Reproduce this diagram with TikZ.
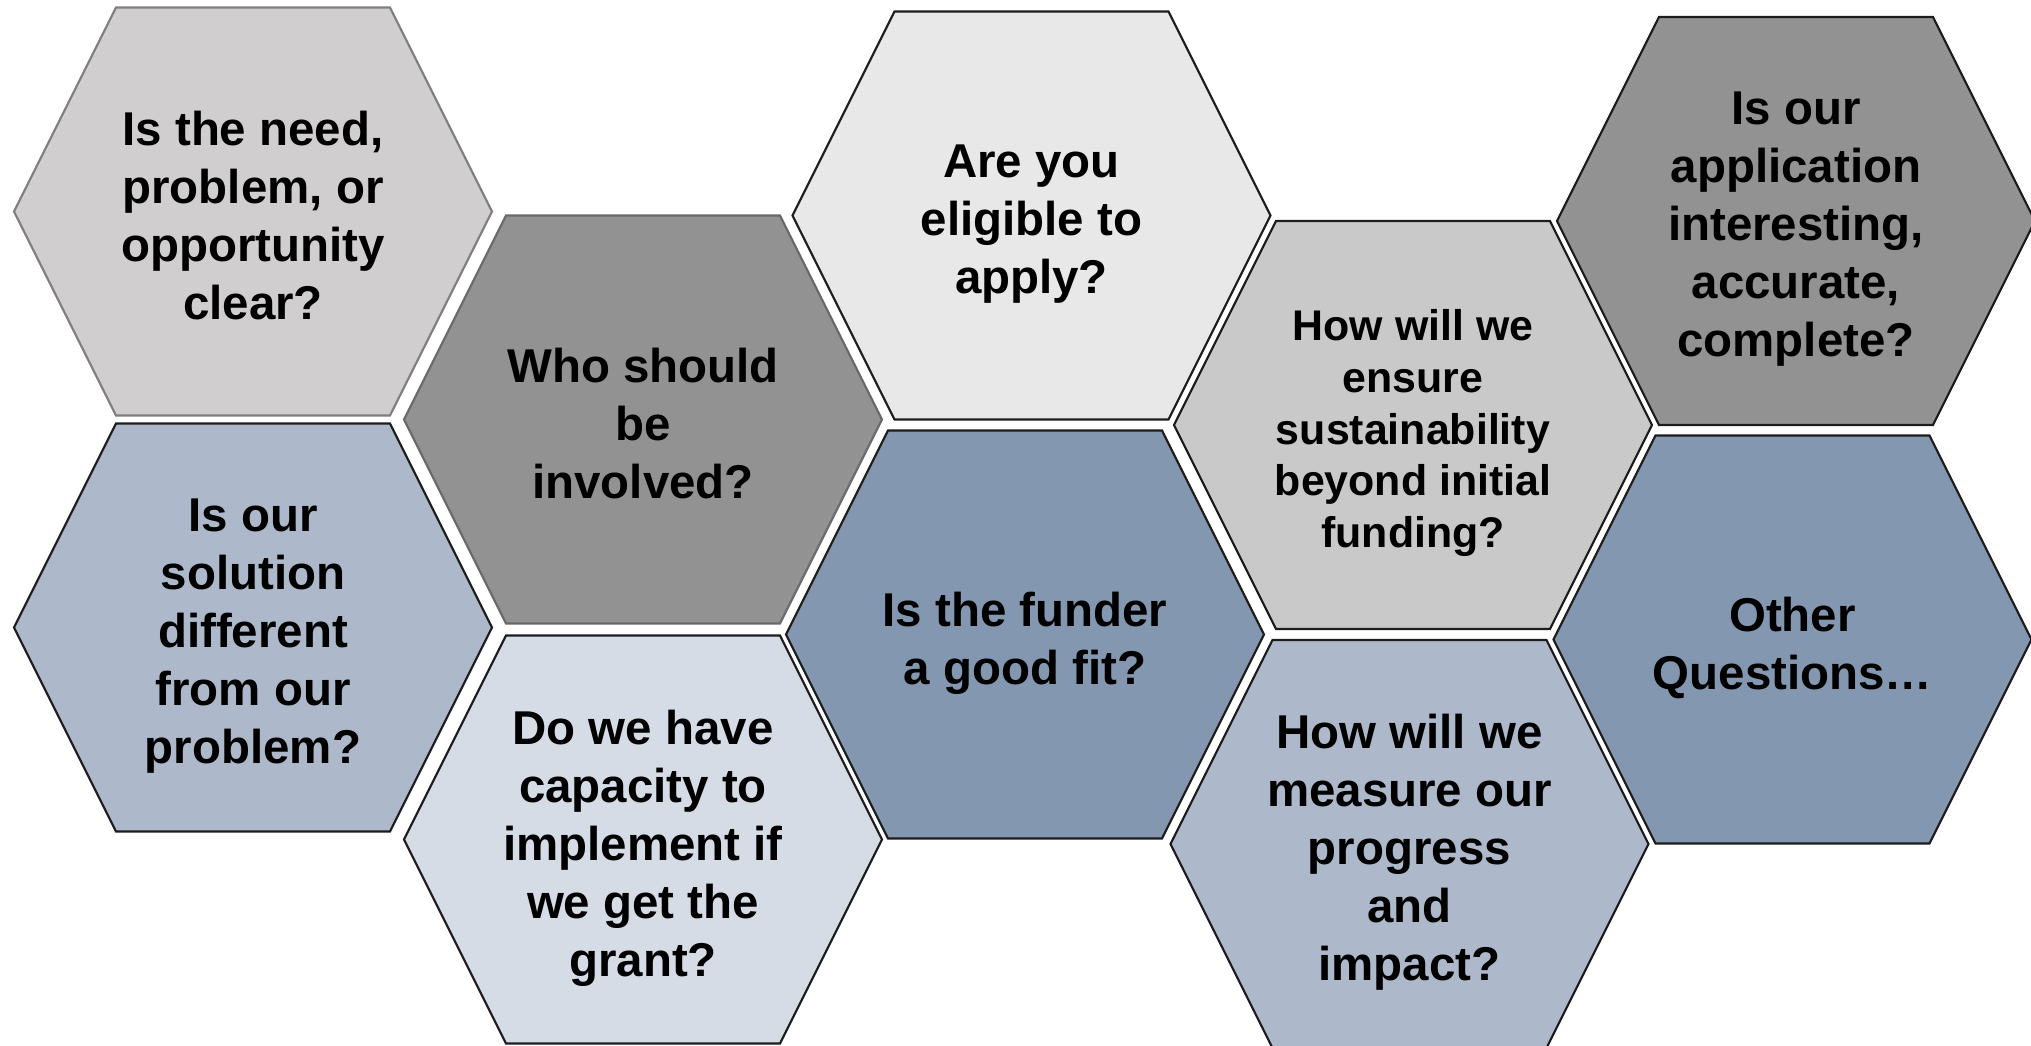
\documentclass[tikz,border=0pt]{standalone}
\usepackage{fontspec}
\setmainfont{Liberation Sans}
\usepackage{tikz}
\definecolor{needc}{RGB}{208,206,207}
\definecolor{whoc}{RGB}{146,146,146}
\definecolor{eligc}{RGB}{232,232,232}
\definecolor{soluc}{RGB}{173,185,202}
\definecolor{capac}{RGB}{213,220,229}
\definecolor{fitc}{RGB}{132,151,176}
\definecolor{sustc}{RGB}{201,201,201}
\definecolor{applc}{RGB}{146,146,146}
\definecolor{lightedge}{RGB}{127,127,127}
\definecolor{midedge}{RGB}{105,105,105}
\definecolor{darkedge}{RGB}{28,28,28}
\tikzset{
  hexq/.style={line width=.6pt,line join=miter},
  qtext/.style={align=center,inner sep=0pt,text depth=0pt,yshift=-1pt,font=\bfseries\fontsize{13.5}{16.5}\selectfont},
  qsmall/.style={qtext,font=\bfseries\fontsize{12.2}{14.7}\selectfont},
}

\begin{document}
\begin{tikzpicture}[x=1cm,y=-1cm]
\useasboundingbox (0,0) rectangle (20.31,10.46);
\clip (0,0) rectangle (20.31,10.46);
% honeycomb of grant questions, centres in columns of two
\foreach \cx/\cy/\fc/\lc/\st/\nm/\txt in {
  2.53/2.115/needc/lightedge/qtext/need/{Is the need,\\problem, or\\opportunity\\clear?},
  6.43/4.195/whoc/midedge/qtext/who/{Who should\\be\\involved?},
  10.315/2.155/eligc/darkedge/qtext/elig/{Are you\\eligible to\\apply?},
  2.53/6.275/soluc/darkedge/qtext/solu/{Is our\\solution\\different\\from our\\problem?},
  6.43/8.395/capac/darkedge/qtext/capa/{Do we have\\capacity to\\implement if\\we get the\\grant?},
  10.25/6.345/fitc/darkedge/qtext/fit/{Is the funder\\a good fit?},
  14.13/4.25/sustc/darkedge/qsmall/sust/{How will we\\ensure\\sustainability\\beyond initial\\funding?},
  14.095/8.44/soluc/darkedge/qtext/meas/{How will we\\measure our\\progress\\and\\impact?},
  17.96/2.21/applc/darkedge/qtext/appl/{Is our\\application\\interesting,\\accurate,\\complete?},
  17.925/6.395/fitc/darkedge/qtext/other/{Other\\Questions…}}{
  \filldraw[hexq,fill=\fc,draw=\lc,shift={(\cx,\cy)}] (-2.39,0) -- (-1.37,-2.04) -- (1.37,-2.04) -- (2.39,0) -- (1.37,2.04) -- (-1.37,2.04) -- cycle;
  \node[\st] (\nm) at (\cx,\cy) {\txt};
}
\end{tikzpicture}
\end{document}
